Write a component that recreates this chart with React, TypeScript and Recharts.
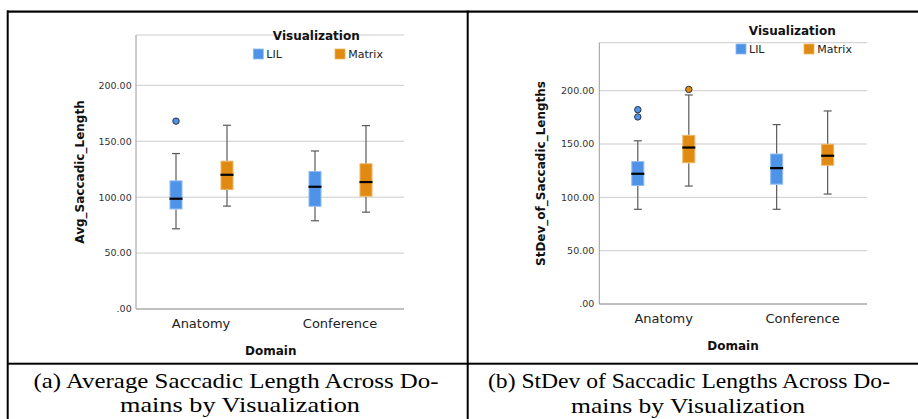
import React from "react";
import { ComposedChart, Bar, XAxis, YAxis, CartesianGrid } from "recharts";

const domains = ["Anatomy", "Conference"];
const yTicks = [0, 50, 100, 150, 200];

// five-number summaries: [min, q1, median, q3, max]
const avgLil = [
  [71.7, 89.0, 98.6, 115.0, 139.0],
  [78.9, 91.4, 109.3, 123.4, 141.3],
];
const avgMatrix = [
  [92.0, 106.4, 120.0, 132.6, 164.3],
  [86.6, 100.4, 113.5, 130.3, 164.0],
];
const avgLilOutliers = [[168.0], []];
const avgMatrixOutliers = [[], []];

const sdLil = [
  [88.8, 110.6, 122.1, 134.0, 153.0],
  [88.8, 111.9, 127.4, 141.1, 168.2],
];
const sdMatrix = [
  [110.6, 132.0, 146.7, 158.6, 196.0],
  [103.1, 129.6, 139.0, 150.2, 181.0],
];
const sdLilOutliers = [[175.4, 182.2], []];
const sdMatrixOutliers = [[201.2], []];

const BLUE = "#4E93E7";
const BLUE_EDGE = "#8FBBF0";
const ORANGE = "#E08A12";
const ORANGE_EDGE = "#EFB461";
const WHISKER = "#5A5A5A";
const SANS = "'DejaVu Sans', sans-serif";
const SERIF = "'Liberation Serif', 'Times New Roman', Times, serif";

function segments(p: string, s: number[], outs: number[]) {
  const [mn, q1, md, q3, mx] = s;
  return {
    [p + "Base"]: mn,
    [p + "W1"]: q1 - mn,
    [p + "B1"]: md - q1,
    [p + "B2"]: q3 - md,
    [p + "W2"]: mx - q3,
    [p + "O1"]: outs.length > 0 ? outs[0] - mx : 0,
    [p + "O2"]: outs.length > 1 ? outs[1] - outs[0] : 0,
    [p + "N"]: outs.length,
  };
}

function buildRows(lil: number[][], mat: number[][], lilOut: number[][], matOut: number[][]) {
  return domains.map((d, i) => ({
    domain: d,
    ...segments("lil", lil[i], lilOut[i]),
    ...segments("mat", mat[i], matOut[i]),
  }));
}

const avgRows = buildRows(avgLil, avgMatrix, avgLilOutliers, avgMatrixOutliers);
const sdRows = buildRows(sdLil, sdMatrix, sdLilOutliers, sdMatrixOutliers);

function makeShape(part: string, p: string, fill: string, edge: string) {
  return (props: any) => {
    const { x, y, width, height, payload } = props;
    const cx = x + width / 2;
    if (part === "Base") return <g />;
    if (part === "W1")
      return (
        <g>
          <line x1={cx} x2={cx} y1={y} y2={y + height} stroke={WHISKER} strokeWidth={1.2} />
          <line x1={cx - 4} x2={cx + 4} y1={y + height} y2={y + height} stroke={WHISKER} strokeWidth={1.2} />
        </g>
      );
    if (part === "W2")
      return (
        <g>
          <line x1={cx} x2={cx} y1={y} y2={y + height} stroke={WHISKER} strokeWidth={1.2} />
          <line x1={cx - 4} x2={cx + 4} y1={y} y2={y} stroke={WHISKER} strokeWidth={1.2} />
        </g>
      );
    if (part === "B1")
      return <rect x={x + 0.5} y={y} width={width - 1} height={height - 0.5} fill={fill} stroke={edge} strokeWidth={1} />;
    if (part === "B2")
      return (
        <g>
          <rect x={x + 0.5} y={y + 0.5} width={width - 1} height={height - 0.5} fill={fill} stroke={edge} strokeWidth={1} />
          <line x1={x} x2={x + width} y1={y + height} y2={y + height} stroke="#000" strokeWidth={2.2} />
        </g>
      );
    const need = part === "O1" ? 1 : 2;
    if (payload[p + "N"] < need) return <g />;
    return <circle cx={cx} cy={y} r={3.2} fill={fill} stroke="#2B3440" strokeWidth={1} />;
  };
}

const parts = ["Base", "W1", "B1", "B2", "W2", "O1", "O2"];

function seriesBars(p: string, fill: string, edge: string) {
  return parts.map((part) => (
    <Bar
      key={p + part}
      dataKey={p + part}
      stackId={p}
      fill={fill}
      isAnimationActive={false}
      shape={makeShape(part, p, fill, edge)}
    />
  ));
}

function BoxChart({ rows, width, height, margin, padding, tickGap }: any) {
  return (
    <ComposedChart width={width} height={height} data={rows} margin={margin} barSize={13} barGap={38}>
      <CartesianGrid vertical={false} stroke="#CCCCCC" />
      <XAxis
        dataKey="domain"
        padding={padding}
        interval={0}
        height={20}
        axisLine={{ stroke: "#9A9A9A" }}
        tickLine={false}
        tickSize={6}
        tickMargin={4}
        tick={{ fontSize: 13, fill: "#222", fontFamily: SANS }}
      />
      <YAxis
        type="number"
        domain={[0, 245]}
        ticks={yTicks}
        interval={0}
        width={50}
        axisLine={{ stroke: "#9A9A9A" }}
        tickLine={false}
        tickSize={2}
        tickMargin={tickGap}
        tickFormatter={(v: number) => (v === 0 ? ".00" : v.toFixed(2))}
        tick={{ fontSize: 9.5, fill: "#333", fontFamily: SANS }}
      />
      {seriesBars("lil", BLUE, BLUE_EDGE)}
      {seriesBars("mat", ORANGE, ORANGE_EDGE)}
    </ComposedChart>
  );
}

function Legend({ cx, titleY, boxY, lilX, matX }: any) {
  return (
    <g fontFamily={SANS}>
      <text x={cx} y={titleY} textAnchor="middle" fontSize={12} fontWeight="bold" fill="#111">
        Visualization
      </text>
      <rect x={lilX} y={boxY} width={10} height={10} fill={BLUE} stroke={BLUE_EDGE} strokeWidth={0.8} />
      <text x={lilX + 13} y={boxY + 9.3} fontSize={11} fill="#222">LIL</text>
      <rect x={matX} y={boxY} width={10} height={10} fill={ORANGE} stroke={ORANGE_EDGE} strokeWidth={0.8} />
      <text x={matX + 13.3} y={boxY + 9.3} fontSize={11} fill="#222">Matrix</text>
    </g>
  );
}

export default function App() {
  return (
    <div style={{ position: "absolute", left: 0, top: 0, width: 918, height: 419, background: "#fff", overflow: "hidden" }}>
      <div style={{ position: "absolute", left: 0, top: 0 }}>
        <BoxChart
          rows={avgRows}
          width={420}
          height={340}
          margin={{ top: 35, right: 16, bottom: 11, left: 86 }}
          padding={{ left: -4.5, right: -5.5 }}
          tickGap={2.3}
        />
      </div>
      <div style={{ position: "absolute", left: 460, top: 0 }}>
        <BoxChart
          rows={sdRows}
          width={420}
          height={335}
          margin={{ top: 42.7, right: 13, bottom: 11, left: 89.3 }}
          padding={{ left: -5, right: -5 }}
          tickGap={3}
        />
      </div>
      <svg width={918} height={419} style={{ position: "absolute", left: 0, top: 0, pointerEvents: "none" }}>
        <Legend cx={316.3} titleY={40} boxY={49} lilX={253.3} matX={335} />
        <Legend cx={792.3} titleY={35} boxY={44} lilX={736} matX={804} />

        <g fontFamily={SANS} fontWeight="bold" fontSize={12} fill="#111">
          <text x={270.8} y={355} textAnchor="middle">Domain</text>
          <text x={733} y={350} textAnchor="middle">Domain</text>
          <text transform="translate(79.5,172) rotate(-90)" textAnchor="middle" dominantBaseline="central">
            Avg_Saccadic_Length
          </text>
          <text transform="translate(541,173.5) rotate(-90)" textAnchor="middle" dominantBaseline="central">
            StDev_of_Saccadic_Lengths
          </text>
        </g>

        <g fill="#000">
          <rect x={7} y={10.5} width={911} height={2.2} />
          <rect x={6.7} y={10.5} width={2} height={409} />
          <rect x={466.7} y={10.5} width={2} height={409} />
          <rect x={7} y={362.7} width={911} height={2} />
        </g>

        <g fontFamily={SERIF} fontSize={21} fill="#000" textAnchor="middle">
          <text x={236} y={387.5} textLength={405} lengthAdjust="spacingAndGlyphs">
            (a) Average Saccadic Length Across Do-
          </text>
          <text x={240} y={411.5} textLength={240} lengthAdjust="spacingAndGlyphs">
            mains by Visualization
          </text>
          <text x={689} y={388} textLength={402} lengthAdjust="spacingAndGlyphs">
            (b) StDev of Saccadic Lengths Across Do-
          </text>
          <text x={688} y={412.5} textLength={234} lengthAdjust="spacingAndGlyphs">
            mains by Visualization
          </text>
        </g>
      </svg>
    </div>
  );
}
